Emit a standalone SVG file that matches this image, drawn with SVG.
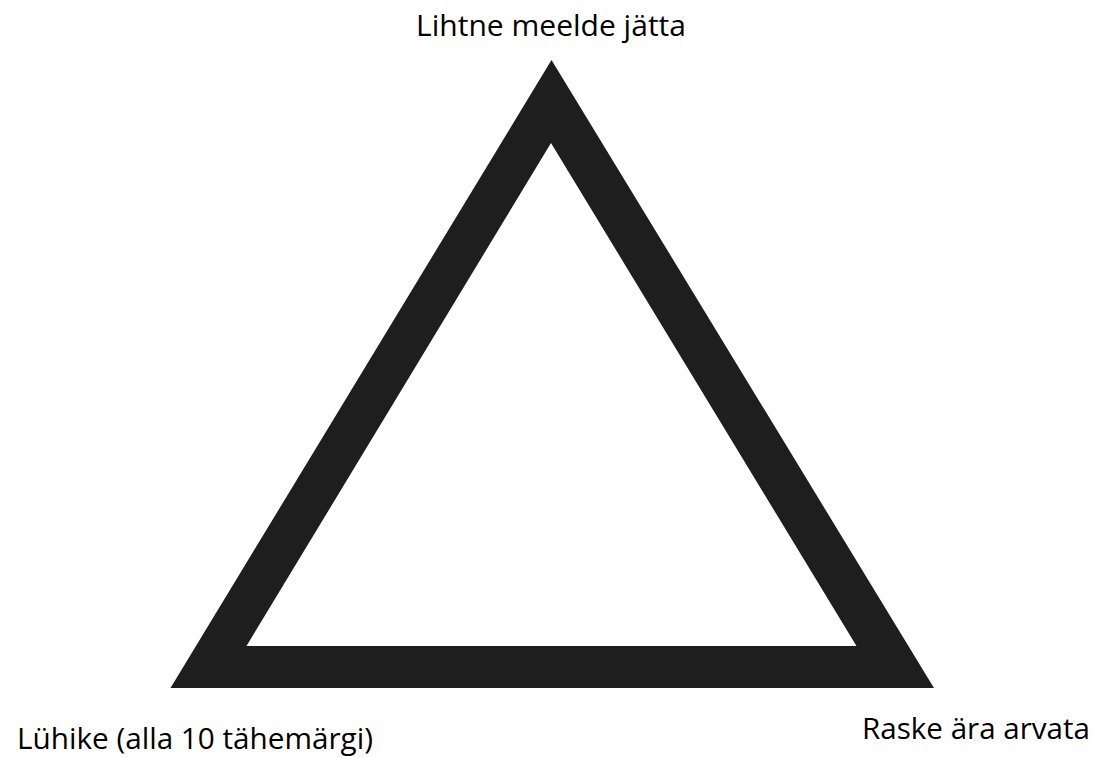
<svg xmlns="http://www.w3.org/2000/svg" width="1094" height="758" viewBox="0 0 1094 758">
  <style>
    .label { font-family: "Open Sans", "Noto Sans", "Liberation Sans", sans-serif; font-size: 30px; fill: #000; }
  </style>
  <rect width="1094" height="758" fill="#fff"/>
  <!-- thick triangular frame: outer outline minus inner hole -->
  <g id="triangle">
    <path d="M551.5 60 L934 688 L170.5 688 Z M551 143 L246.5 646 L856.5 646 Z" fill="#1e1e1e" fill-rule="evenodd"/>
  </g>
  <g id="label-top">
    <text class="label" x="416" y="36" textLength="270" lengthAdjust="spacingAndGlyphs">Lihtne meelde jätta</text>
  </g>
  <g id="label-left">
    <text class="label" x="17" y="749" textLength="356" lengthAdjust="spacingAndGlyphs">Lühike (alla 10 tähemärgi)</text>
  </g>
  <g id="label-right">
    <text class="label" x="862" y="739" textLength="228" lengthAdjust="spacingAndGlyphs">Raske ära arvata</text>
  </g>
  <g id="connectors"/>
</svg>
